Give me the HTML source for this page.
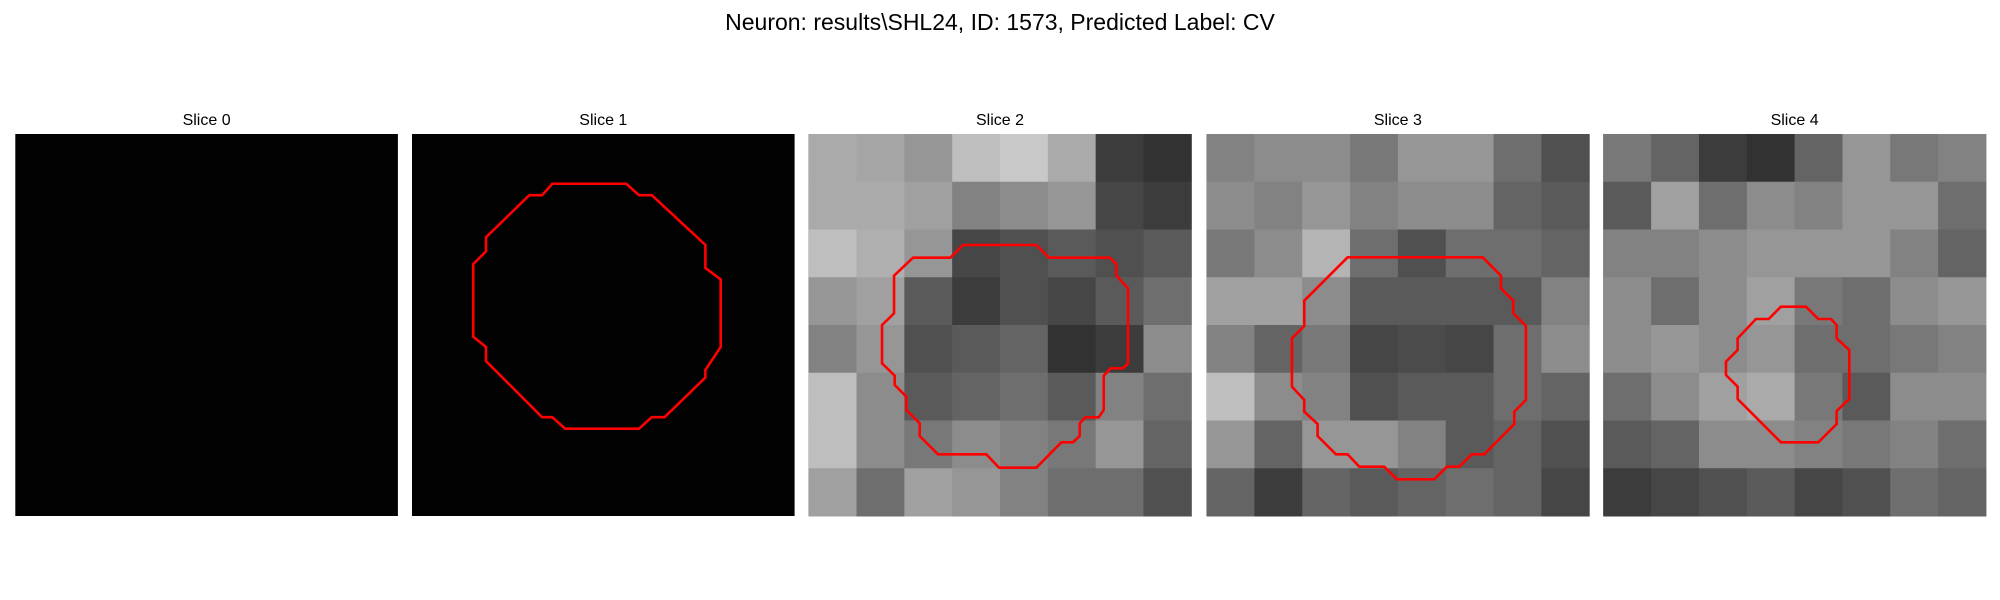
<!DOCTYPE html>
<html><head><meta charset="utf-8"><style>
html,body{margin:0;padding:0;background:#fff;width:2000px;height:600px;overflow:hidden}
svg{display:block;font-family:"Liberation Sans","DejaVu Sans",sans-serif}
</style></head><body>
<svg id="fig" width="2000" height="600" viewBox="0 0 2000 600">
<text x="1000" y="30" text-anchor="middle" font-size="23" fill="#000">Neuron: results\SHL24, ID: 1573, Predicted Label: CV</text>
</svg>
<script>
const sliceTitles = ["Slice 0","Slice 1","Slice 2","Slice 3","Slice 4"];
const slice2 = [
[170,165,150,190,200,170,60,50],
[170,170,160,130,140,150,70,60],
[190,175,150,70,80,90,80,90],
[150,160,90,60,80,70,90,110],
[130,150,80,90,100,50,60,140],
[190,140,90,100,110,90,130,110],
[190,140,120,140,130,120,150,100],
[160,110,160,150,130,110,110,80]];
const slice3 = [
[130,140,140,120,150,150,110,80],
[140,130,150,130,140,140,100,90],
[120,140,180,110,80,110,110,100],
[160,160,140,90,90,90,90,130],
[130,100,120,70,75,70,110,140],
[190,140,130,80,90,90,110,100],
[150,100,150,150,130,90,100,80],
[100,60,100,90,100,110,100,70]];
const slice4 = [
[120,100,60,50,100,150,120,130],
[90,160,110,140,130,150,150,110],
[130,130,140,150,150,150,130,100],
[140,110,140,160,120,110,140,150],
[140,150,140,150,110,110,120,130],
[110,140,160,170,120,90,140,140],
[90,100,140,140,130,120,130,110],
[60,70,80,90,70,80,110,100]];
const images = [null,null,slice2,slice3,slice4];
// contours in zoom units (local px = v/3 - 4), panel size ~382
const contour1 = [[415,153],[425,153],[433,144],[491,144],[501,153],[511,153],[553,192],[553,210],[565,219],[565,272],[553,290],[553,296],[521,327],[511,327],[501,336],[443,336],[433,327],[425,327],[381,283],[381,272],[371,264],[371,207],[381,197],[381,186]];
const contour2 = [[325,383],[437,383],[475,345],[695,345],[733,383],[915,383],[935,402],[935,437],[970,475],[970,700],[955,715],[918,715],[897,737],[897,840],[882,862],[842,862],[825,880],[825,918],[805,937],[770,937],[695,1013],[583,1013],[545,973],[400,973],[345,918],[345,880],[305,840],[305,800],[270,765],[270,737],[232,700],[232,585],[268,550],[268,437]];
const contour3 = [[435,382],[840,382],[895,437],[895,475],[932,512],[932,550],[970,588],[970,810],[935,845],[935,882],[845,973],[808,973],[770,1010],[733,1010],[695,1048],[583,1048],[545,1010],[470,1010],[435,973],[400,973],[345,918],[345,882],[305,845],[305,810],[268,770],[268,625],[305,588],[305,512]];
const contour4 = [[545,530],[620,530],[657,567],[695,567],[712,585],[712,625],[750,660],[750,807],[712,843],[712,882],[657,937],[545,937],[415,807],[415,770],[380,735],[380,695],[415,660],[415,625],[470,567],[508,567]];

const NS="http://www.w3.org/2000/svg";
const svg=document.getElementById('fig');
const panelX=[15.3,412,808.7,1206.6,1603.3], panelY=134, panelW=382.6, panelH=382;
function mk(tag,attrs){const e=document.createElementNS(NS,tag);for(const k in attrs)e.setAttribute(k,attrs[k]);return e;}
const toLocal1=p=>[(p[0]-323)*1.2755,(p[1]-105)*1.2755];
const toLocalZ=p=>[p[0]/3-4,p[1]/3-4];
const contours=[null,[contour1,toLocal1],[contour2,toLocalZ],[contour3,toLocalZ],[contour4,toLocalZ]];
for(let i=0;i<5;i++){
  const g=mk('g',{transform:`translate(${panelX[i]},${panelY})`});
  
  
  const bg=mk('rect',{x:0,y:0,width:panelW,height:panelH,fill:'#020202'});
  
  
  g.appendChild(bg);
  const img=images[i];
  if(img){
    const n=img.length,cw=panelW/n,ch=panelH/n;
    for(let r=0;r<n;r++)for(let c=0;c<n;c++){
      const v=img[r][c];
      const cell=mk('rect',{x:c*cw,y:r*ch,width:cw+0.5,height:ch+0.5,fill:`rgb(${v},${v},${v})`});
      
      
      g.appendChild(cell);
    }
  }
  if(contours[i]){
    const [pts,f]=contours[i];
    const poly=mk('polygon',{points:pts.map(p=>f(p).join(',')).join(' '),fill:'none',stroke:'#ff0000','stroke-width':2.6,'stroke-linejoin':'miter'});
    
    
    g.appendChild(poly);
  }
  svg.appendChild(g);
  const t=mk('text',{x:panelX[i]+panelW/2,y:125,'text-anchor':'middle','font-size':16,fill:'#000'});
  t.textContent=sliceTitles[i];
  
  
  svg.appendChild(t);
}
</script>
</body></html>
